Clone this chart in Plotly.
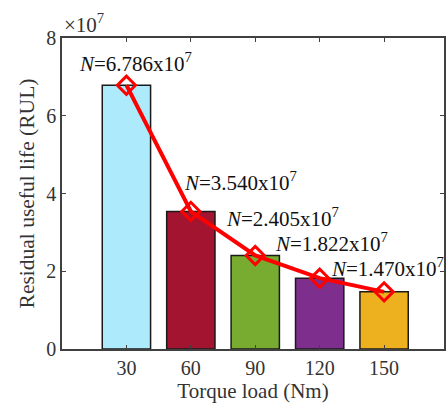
import plotly.graph_objects as go

# Torque load categories and remaining life (cycles)
torque_labels = ["30", "60", "90", "120", "150"]
rul_values = [6.786e7, 3.540e7, 2.405e7, 1.822e7, 1.470e7]
rul_text = ["6.786", "3.540", "2.405", "1.822", "1.470"]
bar_colors = ["#ADEBFC", "#A2142F", "#77AC30", "#7E2F8E", "#EDB120"]
y_ticks = [0, 2, 4, 6, 8]

# pixel offsets of each value label from its point (left edge, vertical centre)
label_dx = [-49, -9, -31, -47, -55]
label_dy = [23, 30, 38, 36, 24]

FONT = "Times New Roman, Liberation Serif, serif"
xs = list(range(1, len(torque_labels) + 1))
scale = 1e7

fig = go.Figure()
fig.add_trace(go.Bar(
    x=xs, y=[v / scale for v in rul_values], width=0.75,
    marker=dict(color=bar_colors, line=dict(color="#1a1a1a", width=1.5)),
    showlegend=False, hoverinfo="skip",
))
fig.add_trace(go.Scatter(
    x=xs, y=[v / scale for v in rul_values], mode="lines+markers",
    line=dict(color="#FF0000", width=4),
    marker=dict(symbol="diamond-open", size=14, color="#FF0000",
                line=dict(color="#FF0000", width=3)),
    showlegend=False,
))

for x, v, t, dx, dy in zip(xs, rul_values, rul_text, label_dx, label_dy):
    fig.add_annotation(
        x=x, y=v / scale, xref="x", yref="y",
        text=f"<i>N</i>={t}x10<sup>7</sup>", showarrow=False,
        xanchor="left", yanchor="middle", xshift=dx, yshift=dy,
        font=dict(family=FONT, size=21, color="#111111"),
    )

fig.add_annotation(
    x=0, y=1, xref="paper", yref="paper", xanchor="left", yanchor="bottom",
    text="×10<sup>7</sup>", showarrow=False, xshift=0, yshift=-1,
    font=dict(family=FONT, size=21, color="#333333"),
)

axis_common = dict(
    showline=True, linecolor="#404040", linewidth=1.5, mirror="ticks",
    ticks="inside", ticklen=4, tickcolor="#404040", tickwidth=1.2,
    showgrid=False, zeroline=False,
    tickfont=dict(family=FONT, size=20, color="#333333"),
)

fig.update_xaxes(
    range=[0, 5.93], tickvals=xs, ticktext=torque_labels,
    title=dict(text="Torque load (Nm)", font=dict(family=FONT, size=21, color="#333333"),
               standoff=0),
    **axis_common,
)
fig.update_yaxes(
    range=[0, 8], tickvals=y_ticks, ticktext=[str(t) for t in y_ticks],
    title=dict(text="Residual useful life (RUL)",
               font=dict(family=FONT, size=21.5, color="#333333"), standoff=6),
    **axis_common,
)

fig.update_layout(
    width=446, height=409, autosize=False,
    margin=dict(l=62, r=0, t=38, b=60),
    paper_bgcolor="white", plot_bgcolor="white",
    bargap=0.25,
)

fig.write_html("out.html")
